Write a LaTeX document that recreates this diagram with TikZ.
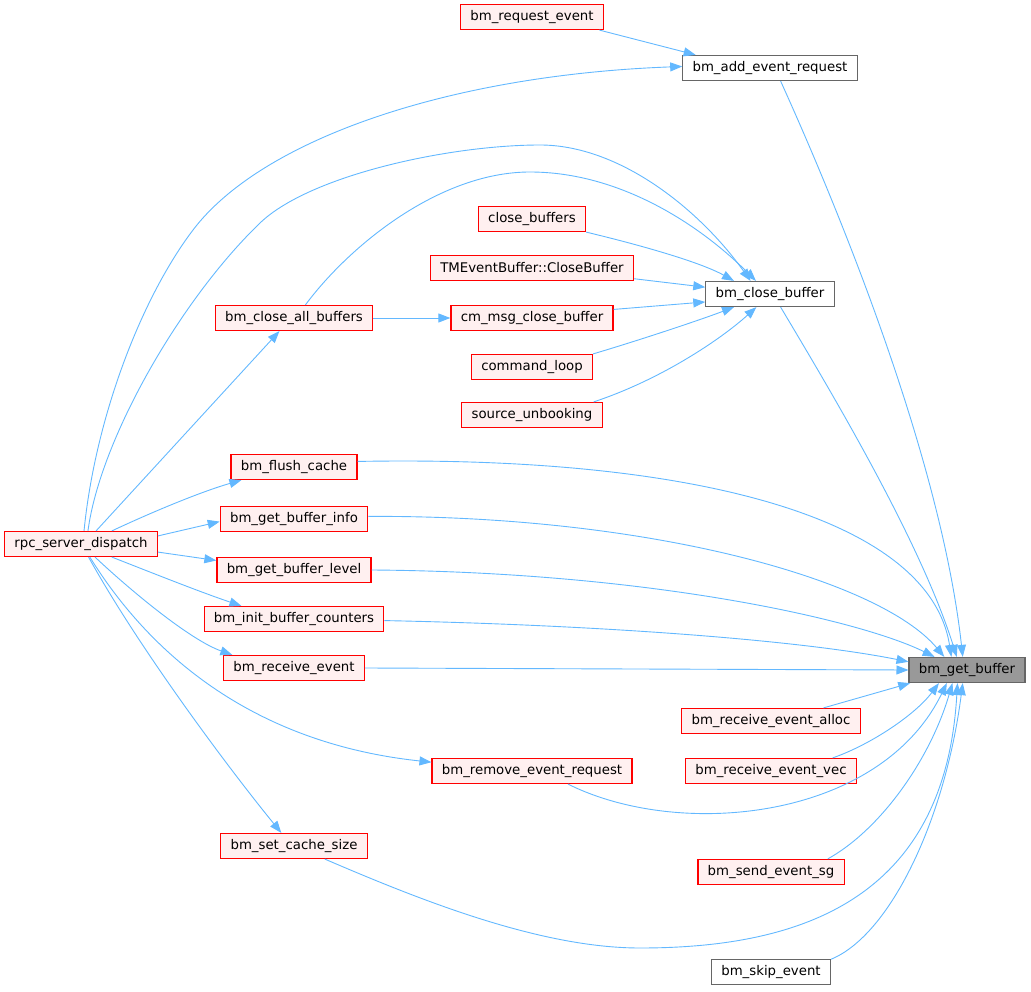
\documentclass[tikz,border=0pt]{standalone}
\usepackage{fontspec}
\setmainfont{DejaVu Sans}
\usetikzlibrary{arrows.meta}
\definecolor{edgeblue}{HTML}{63B8FF}
\definecolor{callerfill}{HTML}{FFF0F0}
\definecolor{boxgray}{HTML}{666666}
\definecolor{rootfill}{HTML}{999999}

\begin{document}
\begin{tikzpicture}[x=1pt,y=-1pt,
  fn/.style={rectangle,minimum height=25pt,inner xsep=9.8pt,inner ysep=0pt,line width=1.2pt,font=\fontsize{13.3}{16}\selectfont},
  caller/.style={fn,draw=red,fill=callerfill},
  plain/.style={fn,draw=boxgray,fill=white},
  root/.style={fn,draw=boxgray,fill=rootfill},
  callarrow/.style={draw=edgeblue,line width=0.9pt,-{Triangle[length=12pt,width=9pt]}}]
\useasboundingbox (0,0) rectangle (1031,992);
\node[caller] (bre) at (532,17) {bm\_request\_event};
\node[plain] (baer) at (770,68) {bm\_add\_event\_request};
\node[caller] (cb) at (532,219) {close\_buffers};
\node[caller] (tmcb) at (532,268) {TMEventBuffer::CloseBuffer};
\node[plain] (bcb) at (770,294) {bm\_close\_buffer};
\node[caller] (bcab) at (294,318) {bm\_close\_all\_buffers};
\node[caller] (cmcb) at (532,318) {cm\_msg\_close\_buffer};
\node[caller] (cl) at (532,367) {command\_loop};
\node[caller] (su) at (532,415) {source\_unbooking};
\node[caller] (bfc) at (294,467) {bm\_flush\_cache};
\node[caller] (bgbi) at (294,519) {bm\_get\_buffer\_info};
\node[caller] (rsd) at (81,544) {rpc\_server\_dispatch};
\node[caller] (bgbl) at (294,570) {bm\_get\_buffer\_level};
\node[caller] (bibc) at (294,619) {bm\_init\_buffer\_counters};
\node[caller] (brev) at (294,668) {bm\_receive\_event};
\node[root] (gb) at (967,670) {bm\_get\_buffer};
\node[caller] (brea) at (771,721) {bm\_receive\_event\_alloc};
\node[caller] (brevec) at (771,771) {bm\_receive\_event\_vec};
\node[caller] (brer) at (532,771) {bm\_remove\_event\_request};
\node[caller] (bscs) at (294,846) {bm\_set\_cache\_size};
\node[caller] (bses) at (771,872) {bm\_send\_event\_sg};
\node[plain] (bse) at (771,972) {bm\_skip\_event};
\draw[callarrow] (bre.-11) -- (baer.170);
\draw[callarrow] (rsd.77) .. controls (95,420) and (140,300) .. (193,230) .. controls (262,139) and (450,75) .. (baer.179);
\draw[callarrow] (rsd.62) .. controls (100,440) and (180,300) .. (260,223) .. controls (310,175) and (450,145) .. (540,145) .. controls (620,145) and (700,210) .. (bcb.146);
\draw[callarrow] (bcab.49) .. controls (350,245) and (440,172) .. (530,172) .. controls (620,172) and (700,225) .. (bcb.137);
\draw[callarrow] (cb.south east) .. controls (640,245) and (700,262) .. (bcb.160);
\draw[callarrow] (tmcb.-6) -- (bcb.174);
\draw[callarrow] (cmcb.6) -- (bcb.187);
\draw[callarrow] (cl.north east) .. controls (640,340) and (700,320) .. (bcb.200);
\draw[callarrow] (su.12) .. controls (660,380) and (720,340) .. (bcb.224);
\draw[callarrow] (bcab.east) -- (cmcb.west);
\draw[callarrow] (rsd.41) -- (bcab.222);
\draw[callarrow] (rsd.23) .. controls (150,513) and (200,492) .. (bfc.194);
\draw[callarrow] (rsd.6) -- (bgbi.182);
\draw[callarrow] (rsd.-6) -- (bgbl.173);
\draw[callarrow] (rsd.-23) .. controls (150,572) and (200,592) .. (bibc.166);
\draw[callarrow] (rsd.-43) .. controls (130,590) and (190,640) .. (brev.168);
\draw[callarrow] (rsd.-56) .. controls (160,670) and (270,745) .. (brer.175);
\draw[callarrow] (rsd.-60) .. controls (140,650) and (230,770) .. (bscs.134);
\draw[callarrow] (baer.-51) .. controls (830,190) and (940,450) .. (gb.108);
\draw[callarrow] (bcb.-51) .. controls (830,390) and (920,540) .. (gb.128);
\draw[callarrow] (bfc.5) .. controls (700,455) and (930,520) .. (gb.140);
\draw[callarrow] (bgbi.2) .. controls (650,515) and (880,580) .. (gb.150);
\draw[callarrow] (bgbl.0) .. controls (650,572) and (860,620) .. (gb.158);
\draw[callarrow] (bibc.-1) .. controls (600,625) and (800,640) .. (gb.172);
\draw[callarrow] (brev.east) -- (gb.180);
\draw[callarrow] (brea.14) -- (gb.193);
\draw[callarrow] (brevec.12) .. controls (870,745) and (915,715) .. (gb.205);
\draw[callarrow] (brer.-20) .. controls (680,840) and (880,820) .. (gb.213);
\draw[callarrow] (bses.13) .. controls (880,830) and (930,760) .. (gb.222);
\draw[callarrow] (bscs.-23) .. controls (420,900) and (540,948) .. (640,948) .. controls (800,948) and (945,900) .. (gb.234);
\draw[callarrow] (bse.12) .. controls (890,935) and (945,820) .. (gb.252);
\end{tikzpicture}
\end{document}
